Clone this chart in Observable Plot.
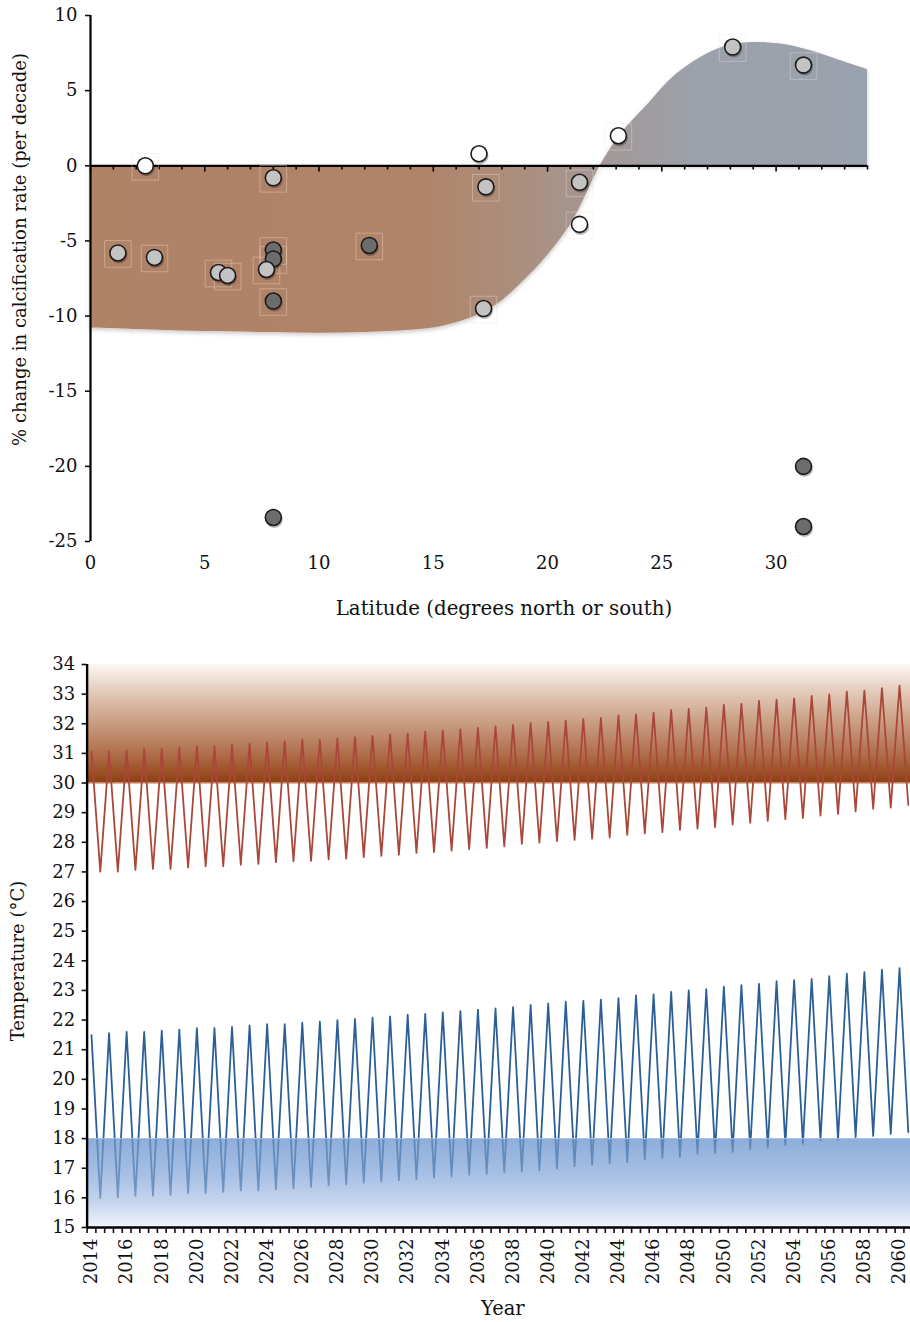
<!DOCTYPE html>
<html>
<head>
<meta charset="utf-8">
<script src="https://cdn.jsdelivr.net/npm/d3@7"></script>
<script src="https://cdn.jsdelivr.net/npm/@observablehq/plot@0.6"></script>
<style>
  html, body { margin: 0; padding: 0; background: #fff; overflow: hidden; }
  #top, #bottom { width: 910px; display: block; }
  svg { display: block; }
</style>
</head>
<body>
<div id="top"></div>
<div id="bottom"></div>
<script>
// ---------------- Top chart data ----------------
const latitude   = [2.4, 1.2, 2.8, 5.6, 6.0, 8.0, 8.0, 8.0, 7.7, 8.0, 8.0, 12.2, 17.0, 17.3, 17.2, 21.4, 21.4, 23.1, 28.1, 31.2, 31.2, 31.2];
const calcChange = [0.0, -5.8, -6.1, -7.1, -7.3, -0.8, -5.6, -6.2, -6.9, -9.0, -23.4, -5.3, 0.8, -1.4, -9.5, -1.1, -3.9, 2.0, 7.9, 6.7, -20.0, -24.0];
const pointShade = ["white", "light", "light", "light", "light", "light", "dark", "dark", "light", "dark", "dark", "dark", "white", "light", "light", "light", "white", "white", "light", "light", "dark", "dark"];
const hasBox     = [true, true, true, true, true, true, true, true, true, true, false, true, false, true, true, true, true, true, true, true, false, false];

const envelopeLat = [0, 2, 4, 6, 8, 10, 12, 14, 15, 16, 17, 18, 19, 19.7, 20.4, 21.1, 21.7, 22.3, 23.2, 24.4, 25.5, 26.7, 27.9, 29.0, 30.2, 31.4, 32.8, 34];
const envelopeVal = [-10.8, -10.9, -11.0, -11.05, -11.1, -11.15, -11.1, -10.95, -10.8, -10.45, -9.9, -9.0, -7.6, -6.5, -5.2, -3.7, -1.9, 0, 2.1, 4.1, 5.9, 7.2, 8.0, 8.2, 8.1, 7.7, 7.0, 6.4];

const latTicks  = [0, 5, 10, 15, 20, 25, 30];
const calcTicks = [10, 5, 0, -5, -10, -15, -20, -25];
const latExtent = [0, 34];

// ---------------- Bottom chart data ----------------
const redPeak = [31.06, 31.06, 31.10, 31.15, 31.15, 31.20, 31.24, 31.24, 31.29, 31.33, 31.37, 31.41, 31.47, 31.46, 31.50, 31.55, 31.59, 31.64, 31.67, 31.73, 31.77, 31.81, 31.86, 31.91,
                 31.96, 32.02, 32.06, 32.10, 32.16, 32.20, 32.28, 32.32, 32.37, 32.46, 32.50, 32.54, 32.64, 32.67, 32.77, 32.81, 32.86, 32.94, 32.99, 33.08, 33.12, 33.20, 33.29];
const redTrough = [27.01, 27.01, 27.07, 27.10, 27.10, 27.15, 27.19, 27.19, 27.24, 27.27, 27.33, 27.36, 27.37, 27.42, 27.45, 27.50, 27.54, 27.58, 27.64, 27.67, 27.72, 27.77, 27.81,
                   27.86, 27.95, 27.99, 28.04, 28.08, 28.12, 28.16, 28.25, 28.30, 28.34, 28.42, 28.46, 28.51, 28.60, 28.66, 28.72, 28.78, 28.82, 28.90, 28.96, 29.04, 29.13, 29.17, 29.26];
const bluePeak = [21.49, 21.56, 21.60, 21.60, 21.64, 21.68, 21.73, 21.73, 21.77, 21.82, 21.86, 21.86, 21.91, 21.95, 22.00, 22.04, 22.08, 22.12, 22.18, 22.21, 22.26, 22.30, 22.35, 22.39,
                  22.44, 22.51, 22.56, 22.62, 22.65, 22.69, 22.74, 22.83, 22.87, 22.95, 23.00, 23.04, 23.13, 23.18, 23.22, 23.31, 23.35, 23.39, 23.48, 23.57, 23.62, 23.70, 23.75];
const blueTrough = [15.99, 16.02, 16.07, 16.07, 16.10, 16.16, 16.16, 16.20, 16.25, 16.25, 16.29, 16.33, 16.37, 16.42, 16.46, 16.51, 16.55, 16.60, 16.63, 16.68, 16.72, 16.78, 16.81,
                    16.87, 16.90, 16.93, 16.99, 17.07, 17.11, 17.17, 17.20, 17.29, 17.35, 17.38, 17.49, 17.52, 17.55, 17.64, 17.69, 17.79, 17.82, 17.94, 17.96, 18.05, 18.09, 18.16, 18.22];
const firstYear = 2014;
const yearLabels = ["2014", "2016", "2018", "2020", "2022", "2024", "2026", "2028", "2030", "2032", "2034", "2036", "2038", "2040", "2042", "2044", "2046", "2048", "2050", "2052", "2054", "2056", "2058", "2060"];
const tempTicks = [15, 16, 17, 18, 19, 20, 21, 22, 23, 24, 25, 26, 27, 28, 29, 30, 31, 32, 33, 34];
const hotBand = [30, 34];
const coolBand = [15, 18];

const FONT = "'DejaVu Serif', 'Liberation Serif', serif";
const FS = 18;

// ---------------- Top chart ----------------
const points = latitude.map((lat, i) => ({lat, v: calcChange[i], shade: pointShade[i], box: hasBox[i]}));
const envelope = envelopeLat.map((lat, i) => ({lat, v: envelopeVal[i]}));
const shadeColor = {white: "#ffffff", light: "#c3c3c3", dark: "#6c6c6c"};
const minorLat = d3.range(latExtent[0], latExtent[1] + 1);

function topDefs() {
  const defs = d3.create("svg:defs");
  const g = defs.append("linearGradient").attr("id", "envGrad").attr("x1", 0).attr("y1", 0).attr("x2", 1).attr("y2", 0);
  [[0, "#b08266"], [0.42, "#b08468"], [0.56, "#ab8f7f"], [0.66, "#a39897"], [0.78, "#9ca1aa"], [1, "#9aa2ad"]]
    .forEach(([o, c]) => g.append("stop").attr("offset", o).attr("stop-color", c));
  const f = defs.append("filter").attr("id", "softShadow").attr("x", "-5%").attr("y", "-10%").attr("width", "110%").attr("height", "125%");
  f.append("feDropShadow").attr("dx", 0).attr("dy", 2).attr("stdDeviation", 2).attr("flood-color", "#000").attr("flood-opacity", 0.22);
  return defs.node();
}

const topPlot = Plot.plot({
  width: 910,
  height: 640,
  marginLeft: 90,
  marginRight: 43,
  marginTop: 15,
  marginBottom: 99,
  style: {fontFamily: FONT, fontSize: FS + "px", color: "#111", background: "#fff", overflow: "visible"},
  x: {domain: latExtent, axis: null},
  y: {domain: [-25, 10], axis: null},
  marks: [
    topDefs,
    Plot.areaY(envelope, {x: "lat", y1: 0, y2: "v", curve: "catmull-rom", fill: "url(#envGrad)"}),
    // zero line with latitude ticks
    Plot.ruleY([0], {x1: latExtent[0], x2: latExtent[1], stroke: "#000", strokeWidth: 2.2}),
    Plot.ruleX(minorLat, {x: d => d, y1: 0, y2: d => (d % 5 === 0 ? -0.42 : -0.28), stroke: "#000", strokeWidth: 1.6}),
    // left axis
    Plot.ruleX([latExtent[0]], {y1: -25, y2: 10, stroke: "#000", strokeWidth: 2.2}),
    Plot.axisY({ticks: calcTicks, tickSize: 5, tickPadding: 8, tickFormat: d => String(d), fontSize: FS, strokeWidth: 1.6, label: null}),
    Plot.text(latTicks, {x: d => d, frameAnchor: "bottom", dy: 22, text: d => String(d), lineAnchor: "middle", fontSize: FS}),
    Plot.text(["Latitude (degrees north or south)"], {frameAnchor: "bottom", dx: 25, dy: 67, textAnchor: "middle", lineAnchor: "middle", fontSize: 19.8}),
    Plot.text(["% change in calcification rate (per decade)"], {frameAnchor: "left", dx: -70, dy: -29, rotate: -90, textAnchor: "middle", lineAnchor: "middle", fontSize: FS}),
    // faint boxes
    Plot.dot(points.filter(d => d.box), {x: "lat", y: "v", symbol: "square", r: 15, dy: 1, stroke: "#f3e2d6", strokeOpacity: 0.38, strokeWidth: 1, fill: "none"}),
    // shadows + dots
    Plot.dot(points, {x: "lat", y: "v", r: 8.5, dx: 1, dy: 2, fill: "#000", fillOpacity: 0.28, stroke: "none"}),
    Plot.dot(points, {x: "lat", y: "v", r: 8, fill: d => shadeColor[d.shade], stroke: "#1b1b1b", strokeWidth: 1.6})
  ]
});
document.getElementById("top").appendChild(topPlot);
d3.select(topPlot).selectAll('[fill="url(#envGrad)"]').attr("filter", "url(#softShadow)");

// ---------------- Bottom chart ----------------
const years = redPeak.map((_, i) => firstYear + i);
const seasonal = (peak, trough) => years.flatMap((y, i) => [{year: y, t: peak[i]}, {year: y + 0.5, t: trough[i]}]);
const redSeries = seasonal(redPeak, redTrough);
const blueSeries = seasonal(bluePeak, blueTrough);
const xLo = firstYear - 0.25;
const xHi = years[years.length - 1] + 0.625;
const catEdges = d3.range(0, years.length * 2 + 1).map(k => xLo + 0.5 * k);

function bottomDefs() {
  const defs = d3.create("svg:defs");
  const h = defs.append("linearGradient").attr("id", "hotGrad").attr("x1", 0).attr("y1", 0).attr("x2", 0).attr("y2", 1);
  [[0, "#fbf8f5"], [0.22, "#e4cdbd"], [0.5, "#c99c82"], [0.78, "#ad6a45"], [1, "#8f3f12"]]
    .forEach(([o, c]) => h.append("stop").attr("offset", o).attr("stop-color", c));
  const c = defs.append("linearGradient").attr("id", "coolGrad").attr("x1", 0).attr("y1", 0).attr("x2", 0).attr("y2", 1);
  [[0, "#8dadda"], [0.4, "#a6bfe4"], [0.75, "#c8d7ee"], [1, "#f1f5fb"]]
    .forEach(([o, col]) => c.append("stop").attr("offset", o).attr("stop-color", col));
  return defs.node();
}
const hot = [{lo: hotBand[0], hi: hotBand[1]}];
const cool = [{lo: coolBand[0], hi: coolBand[1]}];

const bottomPlot = Plot.plot({
  width: 910,
  height: 682,
  marginLeft: 86.6,
  marginRight: 0,
  marginTop: 24,
  marginBottom: 95,
  style: {fontFamily: FONT, fontSize: FS + "px", color: "#111", background: "#fff", overflow: "hidden"},
  x: {domain: [xLo, xHi], axis: null},
  y: {domain: [15, 34], axis: null},
  marks: [
    bottomDefs,
    Plot.rect(hot, {x1: xLo, x2: xHi, y1: "lo", y2: "hi", fill: "url(#hotGrad)"}),
    Plot.ruleY([hotBand[0]], {x1: xLo, x2: xHi, stroke: "#b7775a", strokeWidth: 1}),
    Plot.rect(cool, {x1: xLo, x2: xHi, y1: "lo", y2: "hi", fill: "url(#coolGrad)"}),
    Plot.line(redSeries, {x: "year", y: "t", stroke: "#a9483a", strokeWidth: 1.8}),
    Plot.line(blueSeries, {x: "year", y: "t", stroke: "#2c5f97", strokeWidth: 1.8}),
    Plot.rect(cool, {x1: xLo, x2: xHi, y1: "lo", y2: "hi", fill: "url(#coolGrad)", fillOpacity: 0.5}),
    Plot.ruleY([coolBand[1]], {x1: xLo, x2: xHi, stroke: "#a9c2e6", strokeWidth: 1}),
    // axes
    Plot.ruleX([xLo], {y1: 15, y2: 34, stroke: "#000", strokeWidth: 2.4}),
    Plot.ruleY([15], {x1: xLo, x2: xHi, stroke: "#000", strokeWidth: 2.4}),
    Plot.axisY({ticks: tempTicks, tickSize: 5, tickPadding: 7, fontSize: FS, strokeWidth: 1.6, label: null}),
    Plot.axisX({ticks: catEdges, tickSize: 6, tickFormat: () => "", strokeWidth: 1.6, label: null}),
    Plot.axisX({ticks: yearLabels.map(Number), tickSize: 0, tickPadding: 11, tickRotate: -90, tickFormat: d => String(d), fontSize: FS, label: null}),
    Plot.text(["Year"], {frameAnchor: "bottom", dx: 4, dy: 81, textAnchor: "middle", lineAnchor: "middle", fontSize: 19.5}),
    Plot.text(["Temperature (°C)"], {frameAnchor: "left", dx: -69, dy: 15, rotate: -90, textAnchor: "middle", lineAnchor: "middle", fontSize: FS})
  ]
});
document.getElementById("bottom").appendChild(bottomPlot);
</script>
</body>
</html>
